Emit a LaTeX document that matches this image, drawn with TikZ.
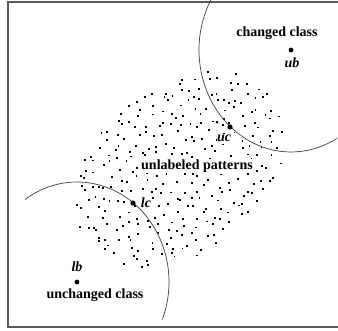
\documentclass[tikz,border=0pt]{standalone}
\usepackage{fontspec}
\setmainfont{Liberation Serif}
\begin{document}
\begin{tikzpicture}[x=1pt,y=-1pt,
  lbl/.style={font=\fontsize{14}{16}\selectfont\bfseries, inner sep=1pt},
  ilbl/.style={font=\fontsize{14}{16}\selectfont\bfseries\itshape, inner sep=0.5pt},
  bigdot/.style={fill=black},
  frameline/.style={draw=black!65, line width=1.6pt},
  boundary/.style={draw=black!75, line width=0.7pt}]
\useasboundingbox (0,0) rectangle (338,330);
% frame (top, left, bottom)
\coordinate (ftr) at (338,2);
\coordinate (ftl) at (8,2);
\coordinate (fbl) at (8,327);
\coordinate (fbr) at (338,327);
\draw[frameline] (ftr) -- (ftl) -- (fbl) -- (fbr);
% centres
\coordinate (ub) at (291,50);
\coordinate (lb) at (77,282);
\coordinate (uc) at (230,127);
\coordinate (lc) at (133,203);
% unlabeled pattern cloud: jittered grid inside a tilted ellipse
\pgfmathsetseed{4711}
\foreach \a in {-12,...,12}{
  \foreach \b in {-9,...,9}{
    \pgfmathsetmacro\uu{10*\a + 4.2*rand}
    \pgfmathsetmacro\vv{9.6*\b + 4.2*rand}
    \pgfmathsetmacro\ins{(\uu/118)^2 + (\vv/84)^2}
    \ifdim\ins pt<1pt
      \pgfmathsetmacro\px{178 + \uu*0.781 + \vv*0.625}
      \pgfmathsetmacro\py{168 - \uu*0.625 + \vv*0.781}
      \fill (\px,\py) rectangle ++(1.9,1.9);
    \fi
  }
}
\fill (217,122) circle[radius=1.5];
% labels inside the cloud (white behind them)
\node[ilbl, fill=white] (tuc) at (224,138) {uc};
\node[ilbl, fill=white] (tlc) at (146,203) {lc};
\node[lbl, fill=white] (tunl) at (197,166) {unlabeled patterns};
% class boundaries
\draw[boundary] ([shift={(209.4:92 and 102)}]ub) arc[start angle=209.4, end angle=60, x radius=92, y radius=102];
\draw[boundary] ([shift={(235.5:92 and 100)}]lb) arc[start angle=235.5, end angle=382, x radius=92, y radius=100];
% labelled points
\fill[bigdot] (ub) circle[radius=2.4];
\fill[bigdot] (lb) circle[radius=2.4];
\fill[bigdot] (uc) circle[radius=2.6];
\fill[bigdot] (lc) circle[radius=2.6];
% other texts
\node[lbl] (tchanged) at (277,33) {changed class};
\node[ilbl] (tub) at (292,63) {ub};
\node[ilbl] (tlb) at (77,267) {lb};
\node[lbl] (tunch) at (95,295) {unchanged class};
\end{tikzpicture}
\end{document}
